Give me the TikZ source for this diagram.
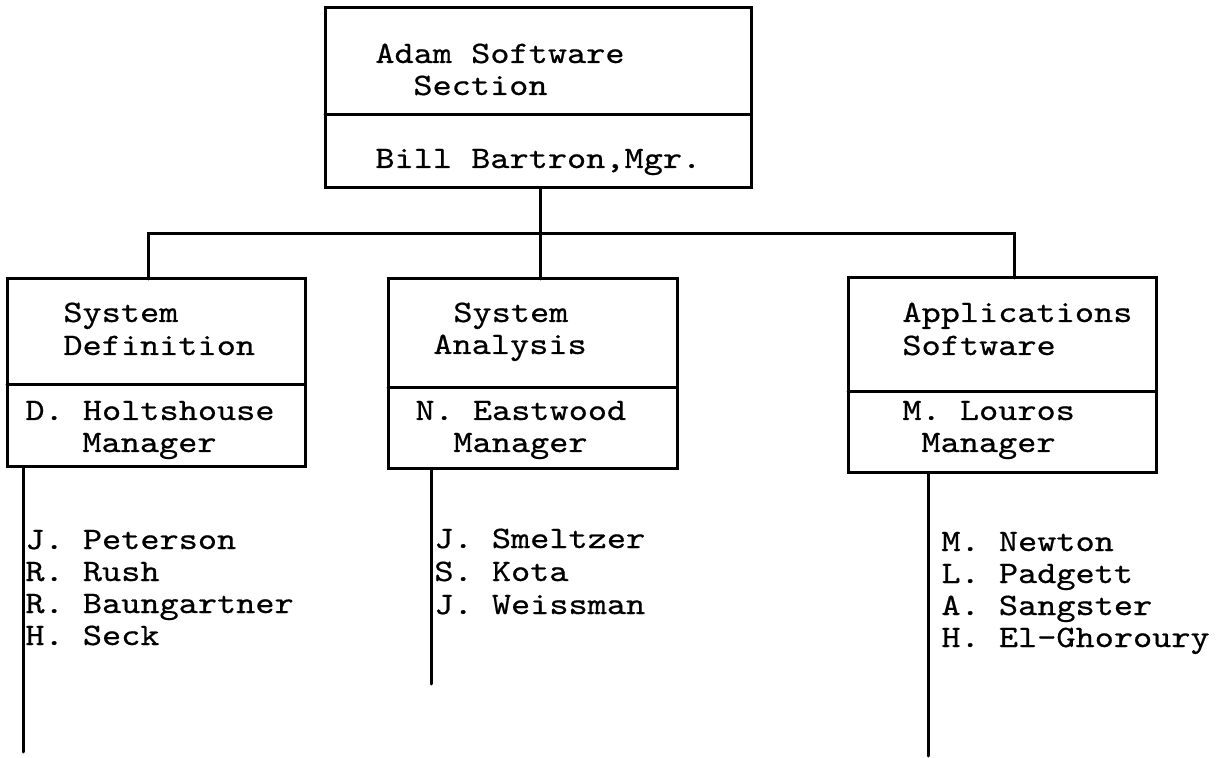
\documentclass[tikz,border=0pt]{standalone}
\usepackage{fontspec}
\newfontfamily\tw{lmmono10-regular.otf}[FakeStretch=1.17,FakeBold=0.6]
\begin{document}
\begin{tikzpicture}[x=0.5pt,y=-0.5pt,
  line/.style={line width=1.5pt, line cap=round},
  box/.style={draw, line width=1.5pt, inner sep=0pt, outer sep=0pt},
  txt/.style={inner sep=0pt, anchor=base west, font=\tw\fontsize{15.6pt}{16pt}\selectfont}]
\useasboundingbox (0,0) rectangle (1225,758);
% boxes
\node[box, minimum width=213pt, minimum height=90pt] (top) at (538,98) {};
\node[box, minimum width=149pt, minimum height=94pt] (sdef) at (156,373) {};
\node[box, minimum width=144.5pt, minimum height=95pt] (sana) at (532.5,374) {};
\node[box, minimum width=154pt, minimum height=97.5pt] (apps) at (1002,375.5) {};
% dividers
\draw[line] (top.west |- 0,115) -- (top.east |- 0,115);
\draw[line] (sdef.west |- 0,385) -- (sdef.east |- 0,385);
\draw[line] (sana.west |- 0,388) -- (sana.east |- 0,388);
\draw[line] (apps.west |- 0,392) -- (apps.east |- 0,392);
% box texts
\node[txt] (t1) at (375,63) {Adam Software};
\node[txt] (t2) at (413,95) {Section};
\node[txt] (t3) at (375,168) {Bill Bartron,Mgr.};
\node[txt] (d1) at (63,322) {System};
\node[txt] (d2) at (63,355) {Definition};
\node[txt] (d3) at (25,420) {D. Holtshouse};
\node[txt] (d4) at (82,452) {Manager};
\node[txt] (a1) at (453,322) {System};
\node[txt] (a2) at (433,354) {Analysis};
\node[txt] (a3) at (415,420) {N. Eastwood};
\node[txt] (a4) at (453,452) {Manager};
\node[txt] (p1) at (902,322) {Applications};
\node[txt] (p2) at (902,355) {Software};
\node[txt] (p3) at (902,420) {M. Louros};
\node[txt] (p4) at (921,452) {Manager};
% connectors
\coordinate (jT) at (540,234);
\coordinate (barL) at (148,234);
\coordinate (barR) at (1014,234);
\draw[line] (jT |- top.south) -- (jT |- sana.north);
\draw[line] (barL |- sdef.north) -- (barL) -- (barR) -- (barR |- apps.north);
\coordinate (endL) at (23,752);
\coordinate (endM) at (431,684);
\coordinate (endR) at (928,756);
\draw[line] (endL |- sdef.south) -- (endL);
\draw[line] (endM |- sana.south) -- (endM);
\draw[line] (endR |- apps.south) -- (endR);
% staff lists
\node[txt] (l1) at (25,549) {J. Peterson};
\node[txt] (l2) at (25,581) {R. Rush};
\node[txt] (l3) at (25,613) {R. Baungartner};
\node[txt] (l4) at (25,645) {H. Seck};
\node[txt] (m1) at (434,548) {J. Smeltzer};
\node[txt] (m2) at (434,581) {S. Kota};
\node[txt] (m3) at (434,614) {J. Weissman};
\node[txt] (r1) at (941,551) {M. Newton};
\node[txt] (r2) at (941,583) {L. Padgett};
\node[txt] (r3) at (941,615) {A. Sangster};
\node[txt] (r4) at (941,647) {H. El-Ghoroury};
\end{tikzpicture}
\end{document}
